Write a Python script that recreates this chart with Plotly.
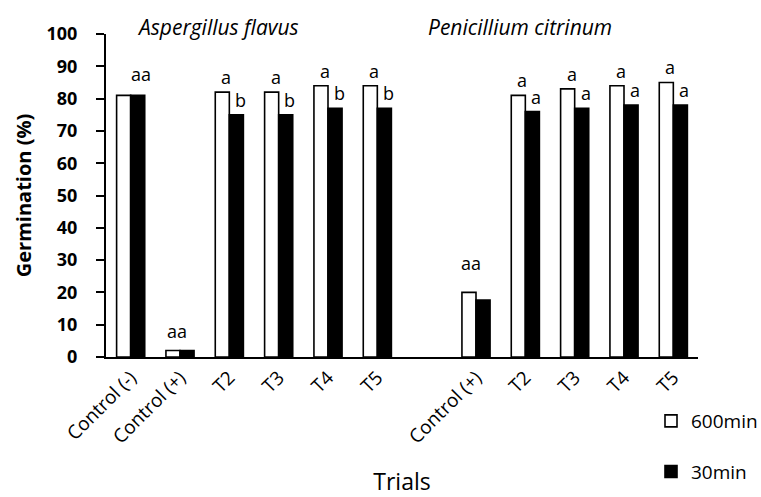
import plotly.graph_objects as go

# Trials for each fungus
af_trials = ["Control (-)", "Control (+)", "T2", "T3", "T4", "T5"]
pc_trials = ["Control (+)", "T2", "T3", "T4", "T5"]

# Germination (%) per exposure time
af_600 = [81, 2, 82, 82, 84, 84]
af_30 = [81, 2, 75, 75, 77, 77]
pc_600 = [20, 81, 83, 84, 85]
pc_30 = [17.6, 76, 77, 78, 78]

# Significance letters
af_letters_600 = ["", "", "a", "a", "a", "a"]
af_letters_30 = ["", "", "b", "b", "b", "b"]
af_letters_pair = ["aa", "aa", "", "", "", ""]
pc_letters_600 = ["", "a", "a", "a", "a"]
pc_letters_30 = ["", "a", "a", "a", "a"]
pc_letters_pair = ["aa", "", "", "", ""]

af_ids = ["AF|" + t for t in af_trials]
pc_ids = ["PC|" + t for t in pc_trials]
spacer = "gap"
cat_order = af_ids + [spacer] + pc_ids
tick_text = af_trials + [""] + pc_trials

font_family = "Open Sans, Noto Sans, sans-serif"

fig = go.Figure()
fig.add_trace(go.Bar(
    x=af_ids + pc_ids, y=af_600 + pc_600, name="600min",
    marker=dict(color="white", line=dict(color="black", width=1.6)),
    legendgroup="g600",
))
fig.add_trace(go.Bar(
    x=af_ids + pc_ids, y=af_30 + pc_30, name="30min",
    marker=dict(color="black", line=dict(color="black", width=1.6)),
    legendgroup="g30",
))

ann = []
lab_font = dict(family=font_family, size=18, color="black")
ids = af_ids + pc_ids
v600 = af_600 + pc_600
v30 = af_30 + pc_30
l600 = af_letters_600 + pc_letters_600
l30 = af_letters_30 + pc_letters_30
lpair = af_letters_pair + pc_letters_pair
pair_xshift = {0: 10, 1: -3, 6: -5}
pair_yshift = {0: 7, 1: 6, 6: 15}
for i, cid in enumerate(ids):
    if l600[i]:
        ann.append(dict(x=cid, y=v600[i], text=l600[i], showarrow=False,
                        xshift=-3, yshift=1, yanchor="bottom", font=lab_font))
    if l30[i]:
        ann.append(dict(x=cid, y=v30[i], text=l30[i], showarrow=False,
                        xshift=11, yshift=1, yanchor="bottom", font=lab_font))
    if lpair[i]:
        top = max(v600[i], v30[i])
        ann.append(dict(x=cid, y=top, text=lpair[i], showarrow=False,
                        xshift=pair_xshift.get(i, 0), yshift=pair_yshift.get(i, 6),
                        yanchor="bottom", font=lab_font))

title_font = dict(family=font_family, size=21, color="black", style="italic")
ann.append(dict(xref="paper", yref="paper", x=0.189, y=1.022, text="Aspergillus flavus",
                showarrow=False, font=title_font, xanchor="center", yanchor="middle"))
ann.append(dict(xref="paper", yref="paper", x=0.699, y=1.022, text="Penicillium citrinum",
                showarrow=False, font=title_font, xanchor="center", yanchor="middle"))

fig.update_layout(
    width=761, height=497,
    margin=dict(l=106, r=63, t=34, b=140, autoexpand=False),
    paper_bgcolor="white", plot_bgcolor="white",
    barmode="group", bargap=0.43, bargroupgap=0,
    font=dict(family=font_family, size=18, color="black"),
    annotations=ann,
    showlegend=True,
    legend=dict(xref="container", yref="container", x=651 / 761, xanchor="left",
                y=1 - 402 / 497, yanchor="top", tracegroupgap=23,
                font=dict(size=19), bgcolor="rgba(0,0,0,0)", itemwidth=30),
    xaxis=dict(
        type="category", categoryorder="array", categoryarray=cat_order,
        tickvals=cat_order, ticktext=tick_text, tickangle=-45,
        range=[-0.5, len(cat_order) - 0.5], automargin=False,
        showline=True, linecolor="black", linewidth=2, ticks="",
        showgrid=False, tickfont=dict(size=19),
        title=dict(text="Trials", font=dict(size=23), standoff=34),
    ),
    yaxis=dict(
        range=[0, 100], dtick=10, showline=True, linecolor="black", linewidth=2,
        ticks="outside", ticklen=8, tickcolor="black", tickwidth=2,
        ticklabelstandoff=15,
        showgrid=False, zeroline=False, automargin=False,
        tickfont=dict(size=18, weight="bold"),
        title=dict(text="Germination (%)", font=dict(size=20, weight="bold"), standoff=10),
    ),
)

fig.write_html("out.html")
